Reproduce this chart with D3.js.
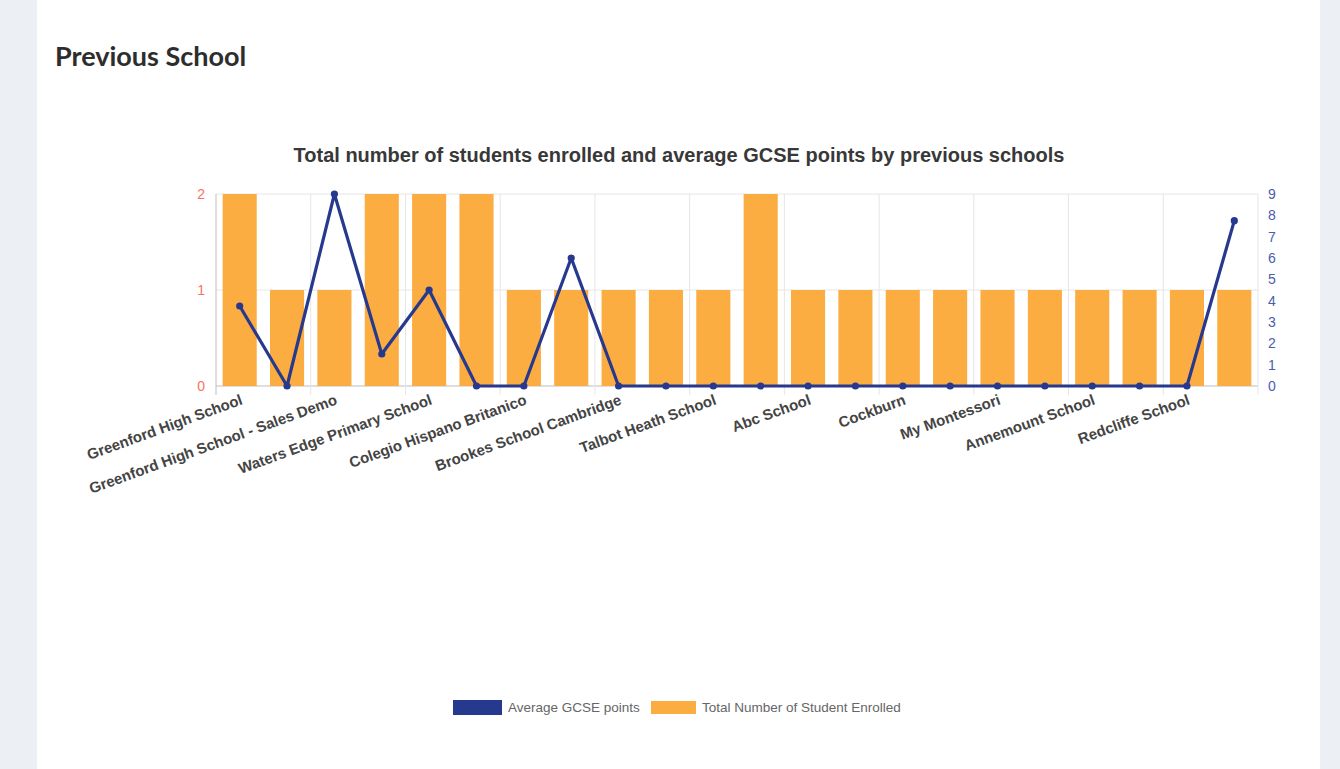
<!DOCTYPE html>
<html>
<head>
<meta charset="utf-8">
<script src="https://cdn.jsdelivr.net/npm/d3@7"></script>
<style>
  html, body { margin: 0; padding: 0; background: #eceff4; }
  #panel { position: absolute; left: 37px; top: 0; width: 1283px; height: 769px; background: #fff; }
  h2 { position: absolute; left: 18px; top: 39px; margin: 0; font-family: Lato, "Open Sans", sans-serif;
       font-weight: 700; font-size: 27px; color: #2d2d2d; }
  svg { position: absolute; left: 0; top: 0; }
</style>
</head>
<body>
<div id="panel"><h2>Previous School</h2></div>
<script>
// labels hidden by auto-skip in the original are left blank
var schools = ["Greenford High School", "", "Greenford High School - Sales Demo", "",
               "Waters Edge Primary School", "", "Colegio Hispano Britanico", "",
               "Brookes School Cambridge", "", "Talbot Heath School", "",
               "Abc School", "", "Cockburn", "", "My Montessori", "",
               "Annemount School", "", "Redcliffe School", ""];
var enrolled = [2, 1, 1, 2, 2, 2, 1, 1, 1, 1, 1, 2, 1, 1, 1, 1, 1, 1, 1, 1, 1, 1];
var gcse = [3.75, 0, 9, 1.5, 4.5, 0, 0, 6, 0, 0, 0, 0, 0, 0, 0, 0, 0, 0, 0, 0, 0, 7.75];
var leftTicks = [0, 1, 2];
var rightTicks = [0, 1, 2, 3, 4, 5, 6, 7, 8, 9];

var blue = "#27398e", orange = "#fbad42";
var font = "'Liberation Sans', Arial, sans-serif";

var svg = d3.select("#panel").append("svg").attr("width", 1283).attr("height", 769);
var ox = -37; // panel offset
var g = svg.append("g").attr("transform", "translate(" + ox + ",0)");

var plotLeft = 216, plotRight = 1258, plotTop = 194, plotBottom = 386;

var x = d3.scaleBand().domain(d3.range(schools.length)).range([plotLeft, plotRight]);
var yL = d3.scaleLinear().domain([0, 2]).range([plotBottom, plotTop]);
var yR = d3.scaleLinear().domain([0, 9]).range([plotBottom, plotTop]);

// title
g.append("text")
    .attr("x", 679).attr("y", 162)
    .attr("text-anchor", "middle")
    .attr("font-family", font).attr("font-weight", "bold").attr("font-size", "20px")
    .attr("fill", "#383838")
    .text("Total number of students enrolled and average GCSE points by previous schools");

// horizontal grid
g.selectAll(".hgrid").data(leftTicks).enter().append("line")
    .attr("x1", plotLeft).attr("x2", plotRight)
    .attr("y1", function(d){ return yL(d); }).attr("y2", function(d){ return yL(d); })
    .attr("stroke", function(d){ return d == 0 ? "#bdbdbd" : "#e6e6e6"; })
    .attr("stroke-width", 1);

// vertical grid, only where a label is shown
var vgrid = d3.range(0, schools.length + 1, 2).map(function(i){ return i < schools.length ? x(i) : plotRight; });
g.selectAll(".vgrid").data(vgrid).enter().append("line")
    .attr("x1", function(d){ return d; }).attr("x2", function(d){ return d; })
    .attr("y1", plotTop).attr("y2", plotBottom + 9)
    .attr("stroke", function(d, i){ return i == 0 ? "#bdbdbd" : "#e6e6e6"; })
    .attr("stroke-width", 1);

// bars
var bw = x.bandwidth() * 0.72;
g.selectAll(".bar").data(enrolled).enter().append("rect")
    .attr("x", function(d, i){ return x(i) + (x.bandwidth() - bw) / 2; })
    .attr("y", function(d){ return yL(d); })
    .attr("width", bw)
    .attr("height", function(d){ return plotBottom - yL(d); })
    .attr("fill", orange);

// line
var cx = function(i){ return x(i) + x.bandwidth() / 2; };
var line = d3.line().x(function(d, i){ return cx(i); }).y(function(d){ return yR(d); });
g.append("path").datum(gcse)
    .attr("d", line)
    .attr("fill", "none").attr("stroke", blue).attr("stroke-width", 3.2)
    .attr("stroke-linejoin", "round");
g.selectAll(".pt").data(gcse).enter().append("circle")
    .attr("cx", function(d, i){ return cx(i); })
    .attr("cy", function(d){ return yR(d); })
    .attr("r", 3.6).attr("fill", blue);

// left axis labels
g.selectAll(".ltick").data(leftTicks).enter().append("text")
    .attr("x", 205).attr("y", function(d){ return yL(d); })
    .attr("dy", "0.35em").attr("text-anchor", "end")
    .attr("font-family", font).attr("font-size", "14px").attr("fill", "#f7735f")
    .text(function(d){ return d; });

// right axis labels
g.selectAll(".rtick").data(rightTicks).enter().append("text")
    .attr("x", 1268).attr("y", function(d){ return yR(d); })
    .attr("dy", "0.35em").attr("text-anchor", "start")
    .attr("font-family", font).attr("font-size", "14px").attr("fill", "#4c5cab")
    .text(function(d){ return d; });

// category labels
g.selectAll(".xlab").data(schools).enter().append("text")
    .attr("transform", function(d, i){ return "translate(" + (cx(i) + 2) + "," + (plotBottom + 13) + ") rotate(-20)"; })
    .attr("dy", "0.35em").attr("text-anchor", "end")
    .attr("font-family", font).attr("font-weight", "bold").attr("font-size", "15px")
    .attr("fill", "#444")
    .text(function(d){ return d; });

// legend
var legend = [
    {name: "Average GCSE points", color: blue, x: 453, w: 49, y: 700, h: 15},
    {name: "Total Number of Student Enrolled", color: orange, x: 651, w: 45, y: 701, h: 13}
];
var lg = g.selectAll(".leg").data(legend).enter().append("g");
lg.append("rect")
    .attr("x", function(d){ return d.x; }).attr("y", function(d){ return d.y; })
    .attr("width", function(d){ return d.w; }).attr("height", function(d){ return d.h; })
    .attr("fill", function(d){ return d.color; });
lg.append("text")
    .attr("x", function(d){ return d.x + d.w + 6; }).attr("y", 712)
    .attr("font-family", font).attr("font-size", "13.5px").attr("fill", "#666")
    .text(function(d){ return d.name; });
</script>
</body>
</html>
